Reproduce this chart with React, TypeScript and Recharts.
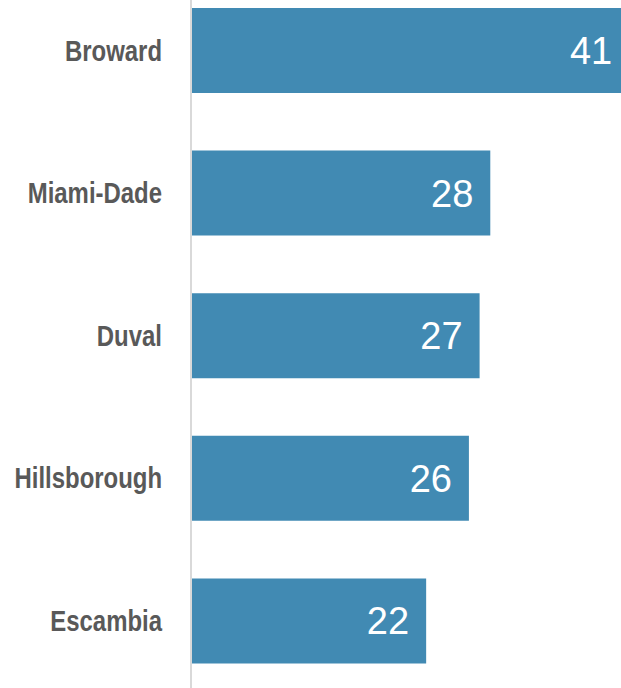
import React from 'react';
import { BarChart, Bar, XAxis, YAxis, LabelList } from 'recharts';

const counties = ['Broward', 'Miami-Dade', 'Duval', 'Hillsborough', 'Escambia'];
const counts = [41, 28, 27, 26, 22];

const data = counties.map((name, i) => ({ name, value: counts[i] }));

const CountyTick = (props: any) => {
  const { x, y, payload } = props;
  return (
    <text
      transform={`translate(${x},${y}) scale(0.825,1)`}
      x={0}
      y={0}
      dy="0.355em"
      textAnchor="end"
      fill="#595959"
      fontSize={29}
      fontWeight="bold"
      fontFamily='"Liberation Sans", Arial, sans-serif'
    >
      {payload.value}
    </text>
  );
};

export default function App() {
  return (
    <div style={{ position: 'absolute', left: 0, top: -21, width: 621, height: 713, overflow: 'visible' }}>
      <BarChart
        width={672}
        height={713}
        data={data}
        layout="vertical"
        margin={{ top: 0, right: 0, bottom: 0, left: 0 }}
        barSize={85}
      >
        <XAxis type="number" domain={[0, 45]} hide />
        <YAxis
          type="category"
          dataKey="name"
          width={191}
          tickSize={0}
          tickMargin={29}
          axisLine={{ stroke: '#d9d9d9', strokeWidth: 2 }}
          tickLine={false}
          tick={<CountyTick />}
        />
        <Bar dataKey="value" fill="#418AB3" isAnimationActive={false}>
          <LabelList
            dataKey="value"
            position="insideRight"
            offset={17}
            fill="#ffffff"
            style={{ fontSize: 38, fontFamily: '"Liberation Sans", sans-serif' }}
          />
        </Bar>
      </BarChart>
    </div>
  );
}
